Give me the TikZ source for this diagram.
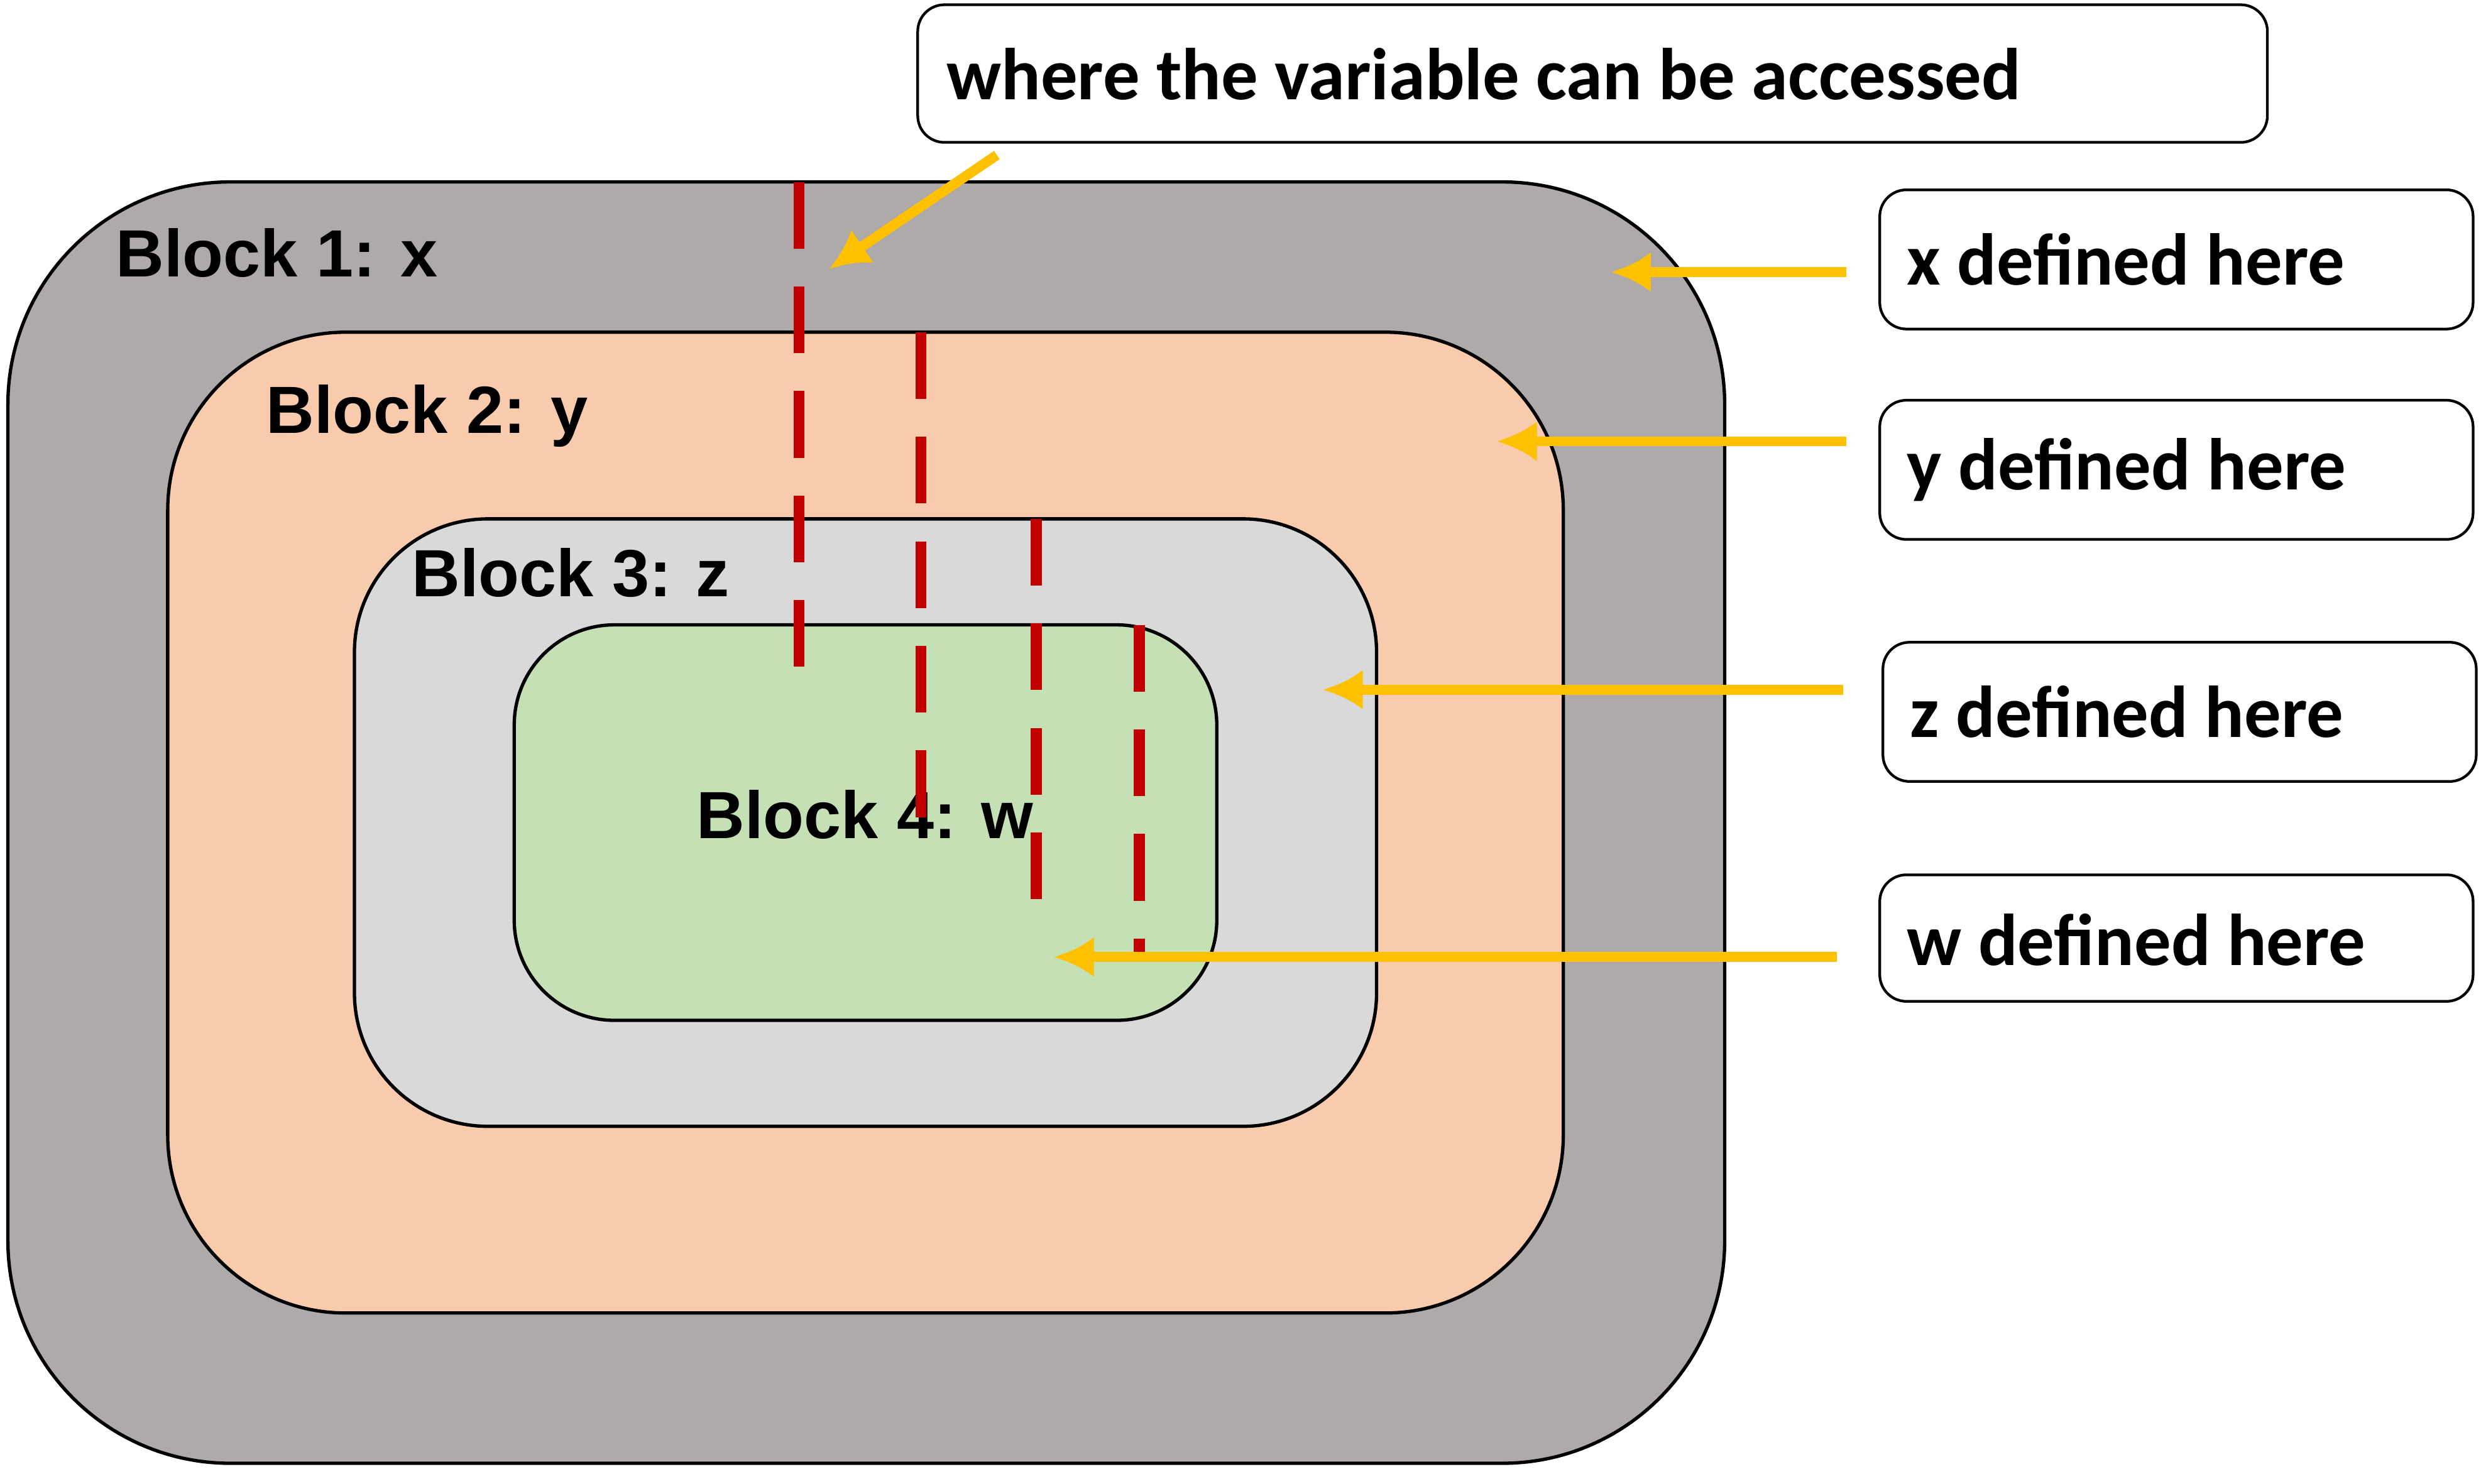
\documentclass[tikz,border=0pt]{standalone}
\usepackage{fontspec}
\usetikzlibrary{arrows.meta}
\setmainfont{Liberation Sans}
\newfontfamily\calfont{Carlito}
\begin{document}
\begin{tikzpicture}[x=0.025cm,y=-0.025cm,
 blk/.style={draw=black,line width=1.5},
 lab/.style={anchor=west,font=\fontsize{30}{34}\selectfont\bfseries,inner sep=0},
 ntxt/.style={anchor=west,font=\calfont\fontsize{33}{38}\selectfont\bfseries,inner sep=0},
 arr/.style={draw={rgb,255:red,255;green,192;blue,0},line width=4.5,-{Latex[length=18,width=18]}},
 rdash/.style={draw={rgb,255:red,192;green,0;blue,0},line width=5,dash pattern=on 30 off 17}]
\useasboundingbox (0,0) rectangle (1568,938);
\definecolor{g1}{HTML}{AEAAAA}\definecolor{g2}{HTML}{F8CBAD}
\definecolor{g3}{HTML}{D9D9D9}\definecolor{g4}{HTML}{C5E0B4}
\draw[blk,fill=g1,rounded corners=100] (5,115) rectangle (1090,925);
\draw[blk,fill=g2,rounded corners=80] (106,210) rectangle (988,830);
\draw[blk,fill=g3,rounded corners=60] (224,328) rectangle (870,712);
\draw[blk,fill=g4,rounded corners=45] (325,395) rectangle (769,645);
\node[lab] (l1) at (73,160) {Block 1: x};
\node[lab] (l2) at (168,263) {Block 2: y};
\node[lab] (l3) at (260,362) {Block 3: z};
\node[lab] (l4) at (440,515) {Block 4: w};
\draw[rdash] (505,115) -- (505,432);
\draw[rdash] (582,210) -- (582,525);
\draw[rdash] (655,328) -- (655,590);
\draw[rdash] (720,395) -- (720,605);
\draw[blk,line width=1.2,rounded corners=12,fill=white] (580,3) rectangle (1433,90);
\node[ntxt] (t0) at (598,47) {where the variable can be accessed};
\draw[blk,line width=1.2,rounded corners=12,fill=white] (1188,120) rectangle (1563,208);
\node[ntxt] (tx) at (1205,164) {x defined here};
\draw[blk,line width=1.2,rounded corners=12,fill=white] (1188,253) rectangle (1563,341);
\node[ntxt] (ty) at (1205,297) {y defined here};
\draw[blk,line width=1.2,rounded corners=12,fill=white] (1190,406) rectangle (1565,494);
\node[ntxt] (tz) at (1207,450) {z defined here};
\draw[blk,line width=1.2,rounded corners=12,fill=white] (1188,553) rectangle (1563,633);
\node[ntxt] (tw) at (1205,594) {w defined here};
\coordinate (a0) at (630,98); \coordinate (b0) at (524,170);
\coordinate (ax) at (1167,172); \coordinate (bx) at (1018,172);
\coordinate (ay) at (1167,279); \coordinate (by) at (946,279);
\coordinate (az) at (1165,436); \coordinate (bz) at (836,436);
\coordinate (aw) at (1161,605); \coordinate (bw) at (666,605);
\draw[arr] (a0) -- (b0);
\draw[arr] (ax) -- (bx);
\draw[arr] (ay) -- (by);
\draw[arr] (az) -- (bz);
\draw[arr] (aw) -- (bw);
\end{tikzpicture}
\end{document}
